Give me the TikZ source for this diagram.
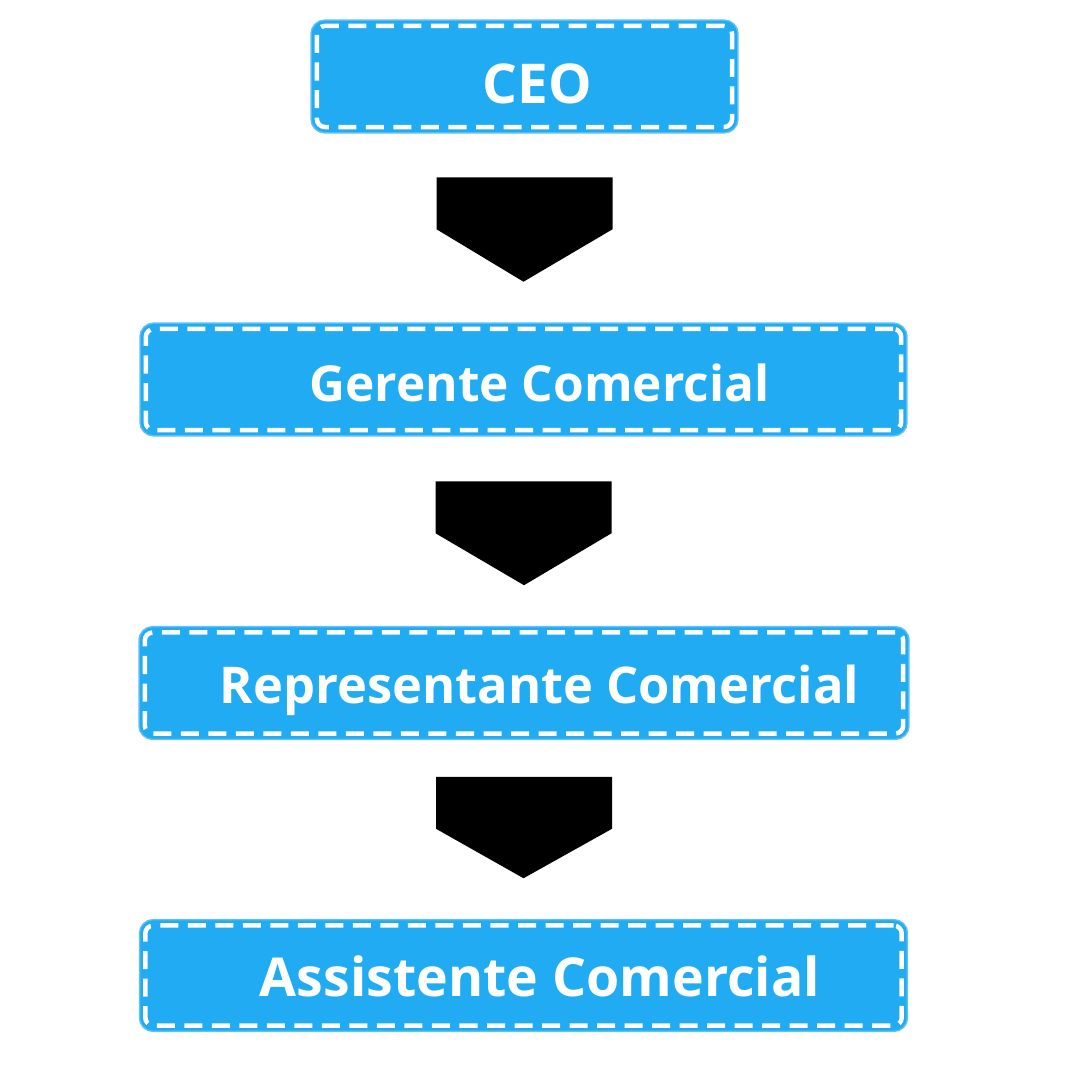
\documentclass[tikz,border=0pt]{standalone}
\usepackage{fontspec}
\setmainfont{Open Sans}
\usetikzlibrary{calc}

\definecolor{boxblue}{RGB}{33,171,242}
\definecolor{boxrim}{RGB}{95,193,246}

\tikzset{
  rolebox/.style={draw=white, line width=0.45mm, dash pattern=on 1.8mm off 0.95mm,
    fill=boxblue, rounded corners=0.8mm, inner sep=0pt, minimum height=1.01cm,
    preaction={draw=boxrim, line width=1.3mm, solid},
    preaction={draw=boxblue, line width=1.0mm, solid}},
  roletext/.style={text=white, inner sep=0pt, anchor=base,
    font=\bfseries\fontsize{#1}{#1}\selectfont},
  flowarrow/.style={fill=black}
}

\begin{document}
\begin{tikzpicture}[x=0.01cm, y=-0.01cm]
  \fill[white] (0,0) rectangle (1080,1080);
  \useasboundingbox (0,0) rectangle (1080,1080);

  \node[rolebox, minimum width=4.15cm] (ceo) at (524.5,76.5) {};
  \node[roletext=15.6] (ceo text) at ($(ceo.center)+(12.5,27)$) {CEO};
  \node[rolebox, minimum width=7.55cm] (ger) at (523.5,379.5) {};
  \node[roletext=14.1] (ger text) at ($(ger.center)+(16,22)$) {Gerente Comercial};
  \node[rolebox, minimum width=7.58cm] (rep) at (524,683) {};
  \node[roletext=14.4] (rep text) at ($(rep.center)+(15.5,20)$) {Representante Comercial};
  \node[rolebox, minimum width=7.56cm, minimum height=1.0cm] (asst) at (523.5,975.5) {};
  \node[roletext=15.25] (asst text) at ($(asst.center)+(16.5,20.5)$) {Assistente Comercial};

  % block arrows between the levels
  \foreach \a/\b/\g in {ceo/ger/48, ger/rep/49, rep/asst/41}
    \fill[flowarrow] ($(\a.south)+(-88,\g)$) -- ($(\a.south)+(88,\g)$)
      -- ($(\a.south)+(88,\g+52)$) -- ($(\b.north)+(0,-45)$)
      -- ($(\a.south)+(-88,\g+52)$) -- cycle;
\end{tikzpicture}
\end{document}
